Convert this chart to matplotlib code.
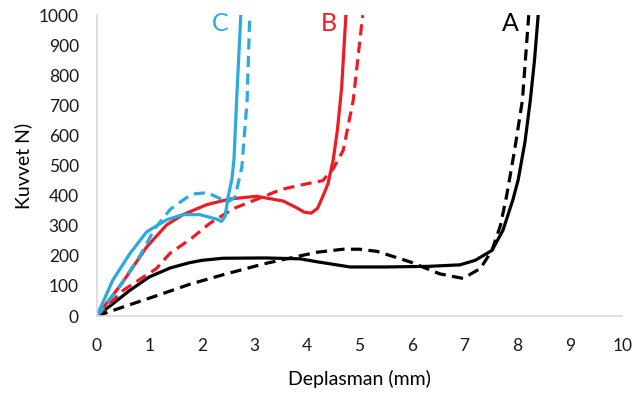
import matplotlib.pyplot as plt

# A (black)
a_x = [0, 0.3, 0.61, 1.0, 1.4, 1.76, 2.0, 2.4, 3.2, 3.87, 4.2, 4.82, 5.5, 6.3, 6.91, 7.2, 7.52, 7.73, 7.92, 8.02, 8.15, 8.25, 8.33, 8.4]
a_y = [0, 40, 83, 130, 160, 177, 185, 192, 193, 190, 180, 163, 163, 165, 170, 185, 218, 285, 387, 453, 580, 717, 850, 1000]
a2_x = [0, 0.55, 1.13, 1.76, 2.4, 3.17, 3.87, 4.19, 4.69, 5.0, 5.33, 5.96, 6.53, 6.97, 7.3, 7.52, 7.68, 7.8, 7.95, 8.1, 8.22]
a2_y = [0, 33, 67, 105, 137, 173, 200, 212, 222, 222, 215, 180, 140, 125, 158, 218, 300, 400, 550, 717, 1000]

# B (red)
b_x = [0, 0.47, 0.95, 1.33, 1.64, 2.09, 2.53, 3.04, 3.55, 3.8, 3.95, 4.08, 4.2, 4.3, 4.4, 4.5, 4.58, 4.66, 4.74]
b_y = [0, 107, 230, 303, 337, 370, 389, 398, 382, 360, 345, 342, 358, 397, 440, 520, 620, 760, 1000]
b2_x = [0, 0.5, 0.88, 1.13, 1.39, 1.8, 2.15, 2.6, 3.1, 3.5, 3.87, 4.3, 4.5, 4.69, 4.88, 5.06]
b2_y = [0, 85, 129, 157, 208, 258, 308, 357, 392, 420, 435, 450, 490, 551, 717, 1000]

# C (blue)
c_x = [0, 0.3, 0.63, 0.95, 1.33, 1.64, 1.96, 2.28, 2.37, 2.44, 2.5, 2.57, 2.61, 2.66, 2.74]
c_y = [0, 118, 208, 280, 320, 337, 337, 322, 314, 331, 398, 454, 520, 717, 1000]
c2_x = [0, 0.4, 0.82, 1.1, 1.4, 1.8, 2.1, 2.35, 2.5, 2.63, 2.76, 2.86, 2.91]
c2_y = [0, 90, 200, 290, 355, 405, 410, 390, 380, 395, 495, 717, 1000]

plt.rcParams['font.family'] = ['Lato', 'DejaVu Sans']

fig = plt.figure(figsize=(6.33, 3.99), dpi=100)
ax = fig.add_axes([0.153, 0.208, 0.83, 0.754])

lw = 2.3
dash = (3.5, 2)
ax.plot(a_x, a_y, color='black', lw=lw)
ax.plot(a2_x, a2_y, color='black', lw=lw, dashes=dash)
ax.plot(b_x, b_y, color='#ED1C24', lw=lw)
ax.plot(b2_x, b2_y, color='#ED1C24', lw=lw, dashes=dash)
ax.plot(c_x, c_y, color='#29ABE2', lw=lw)
ax.plot(c2_x, c2_y, color='#29ABE2', lw=lw, dashes=dash)

ax.text(2.34, 972, 'C', color='#29ABE2', fontsize=18, ha='center', va='center')
ax.text(4.42, 972, 'B', color='#ED1C24', fontsize=18, ha='center', va='center')
ax.text(7.87, 972, 'A', color='black', fontsize=18, ha='center', va='center')

ax.set_xlim(0, 10)
ax.set_ylim(0, 1000)
ax.set_xticks(range(0, 11))
ax.set_yticks(range(0, 1001, 100))
ax.tick_params(length=0, labelsize=12.5, colors='#1a1a1a')
ax.tick_params(axis='x', pad=16)
ax.tick_params(axis='y', pad=13)
for s in ['top', 'right']:
    ax.spines[s].set_visible(False)
for s in ['left', 'bottom']:
    ax.spines[s].set_color('#d9d9d9')
    ax.spines[s].set_linewidth(1.2)

ax.set_xlabel('Deplasman (mm)', fontsize=14, labelpad=11)
ax.set_ylabel('Kuvvet N)', fontsize=14, labelpad=5)

fig.savefig('out.png', dpi=100)
